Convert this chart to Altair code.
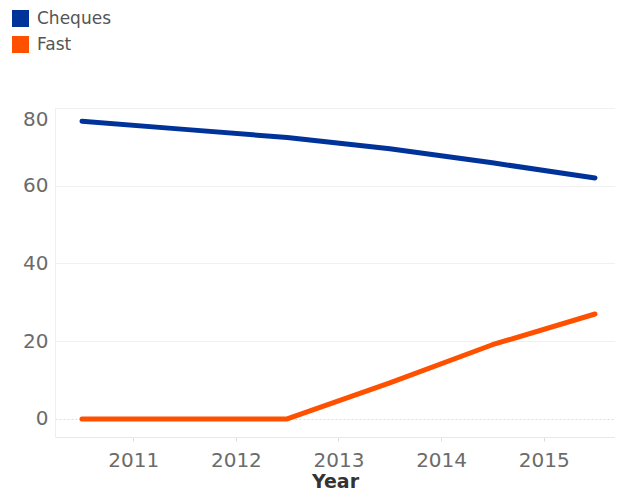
import altair as alt
import pandas as pd

years = [2010.5, 2011.5, 2012.5, 2013.5, 2014.5, 2015.5]
cheques = [76.6, 74.5, 72.4, 69.5, 65.9, 62.0]
fast = [0, 0, 0, 9.3, 19.1, 27.0]
series_names = ["Cheques", "Fast"]
series_colors = ["#003399", "#FF5000"]
tick_years = [2011, 2012, 2013, 2014, 2015]
y_ticks = [0, 20, 40, 60, 80]

rows = []
for x, c, f in zip(years, cheques, fast):
    rows.append({"Year": x, "Series": "Cheques", "Value": c})
    rows.append({"Year": x, "Series": "Fast", "Value": f})
df = pd.DataFrame(rows)

FONT = "DejaVu Sans"

x_enc = alt.X("Year:Q",
              scale=alt.Scale(domain=[2010.237, 2015.695], nice=False, zero=False),
              axis=alt.Axis(values=tick_years, format="d", title="Year",
                            grid=False, domainColor="#e8e8e8", tickColor="#dddddd", tickSize=4,
                            labelFont=FONT, labelFontSize=20, labelColor="#6b6b6b",
                            labelPadding=9,
                            titleFont=FONT, titleFontSize=19, titleFontWeight="bold",
                            titleColor="#333333", titlePadding=2))
y_enc = alt.Y("Value:Q",
              scale=alt.Scale(domain=[-4.64, 80], nice=False, zero=False),
              axis=alt.Axis(values=y_ticks, title=None, ticks=False,
                            domainColor="#eeeeee",
                            gridWidth=1,
                            gridDash={"condition": {"test": "datum.value == 0", "value": [2, 2]}, "value": []},
                            gridColor={"condition": {"test": "datum.value == 0", "value": "#dddddd"}, "value": "#f0f0f0"},
                            labelFont=FONT, labelFontSize=20, labelColor="#6b6b6b",
                            labelPadding=7,
                            labelOffset={"condition": {"test": "datum.value == 80", "value": 11}, "value": 0}))
color_enc = alt.Color("Series:N",
                      scale=alt.Scale(domain=series_names, range=series_colors),
                      legend=alt.Legend(title=None, orient="none", legendX=-43, legendY=-98,
                                        symbolType="square", symbolSize=289, symbolStrokeWidth=0,
                                        symbolOpacity=1, labelFont=FONT, labelFontSize=17,
                                        labelColor="#555555", labelOffset=8, rowPadding=8,
                                        padding=0))

base = alt.Chart(df)
lines = base.mark_line(strokeWidth=5, strokeCap="round", strokeJoin="round").encode(
    x=x_enc, y=y_enc, color=color_enc)
legend_pts = base.mark_point(shape="square", filled=True, opacity=0, size=0).encode(
    x=x_enc, y=y_enc, color=color_enc)

chart = alt.layer(lines, legend_pts).properties(
    width=560, height=329,
    autosize=alt.AutoSizeParams(type="none"),
    padding={"left": 47, "top": 100, "right": 0, "bottom": 56},
).configure_view(stroke=None)

chart.save("out.html", embed_options={"renderer": "svg", "actions": False})
